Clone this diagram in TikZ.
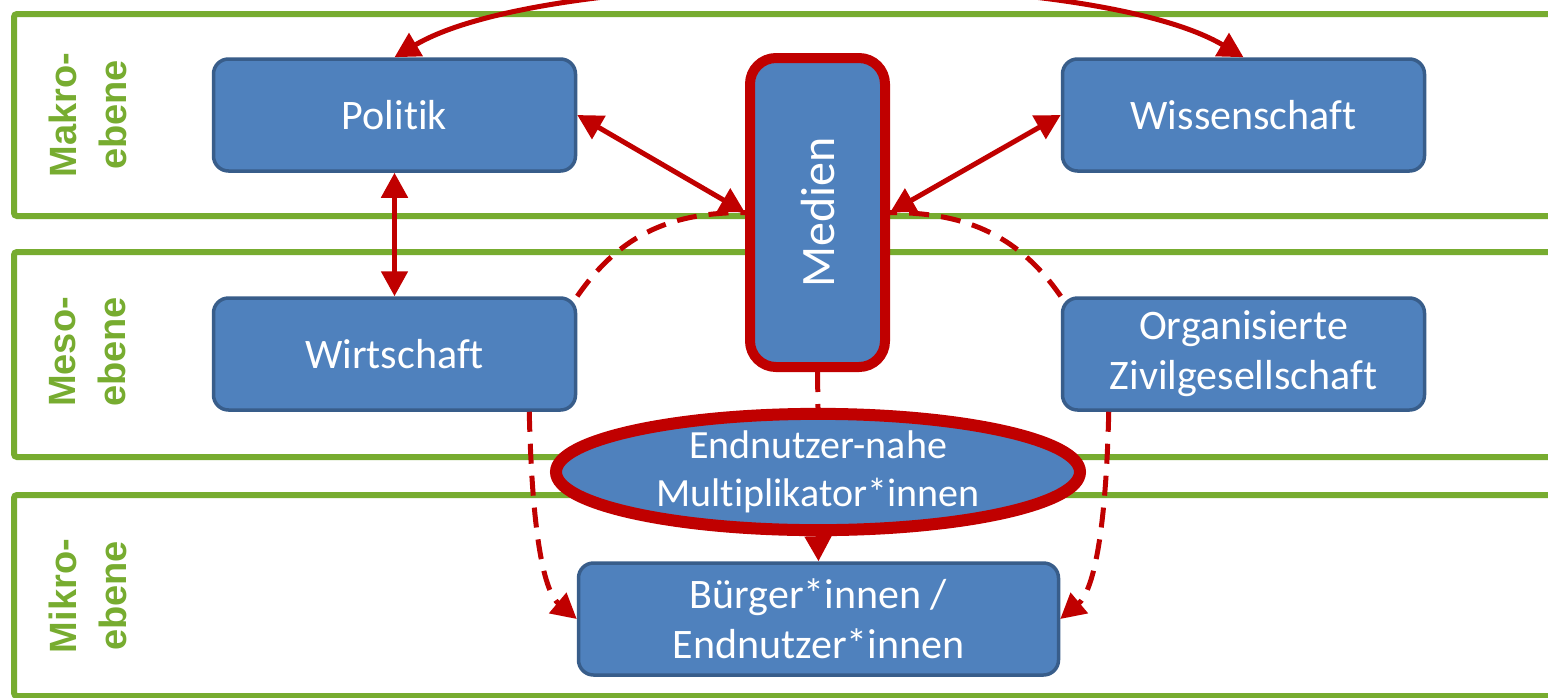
\documentclass[tikz,border=0pt]{standalone}
\usepackage{fontspec}
\setmainfont{Carlito}[Ligatures=NoCommon]
\newfontfamily\labelfont{Liberation Sans}
\usetikzlibrary{arrows.meta,shapes.geometric}
\definecolor{boxblue}{HTML}{4F81BD}
\definecolor{boxborder}{HTML}{385D8A}
\definecolor{medred}{HTML}{C00000}
\definecolor{bandgreen}{HTML}{77AC30}
\begin{document}
\begin{tikzpicture}[x=0.5pt,y=-0.5pt,
  band/.style={draw=bandgreen,line width=3pt,rounded corners=1.5pt},
  bandlabel/.style={rotate=90,align=center,text=bandgreen,inner sep=0pt,font=\labelfont\bfseries\fontsize{19}{25}\selectfont},
  box/.style={rectangle,rounded corners=7.5pt,fill=boxblue,draw=boxborder,line width=1.75pt,text=white,align=center,inner sep=0pt,minimum width=181pt,minimum height=56pt,font=\fontsize{21}{25}\selectfont},
  mediabox/.style={rectangle,rounded corners=13pt,fill=boxblue,draw=medred,line width=5pt,minimum width=67.5pt,minimum height=154.5pt,inner sep=0pt},
  medtext/.style={rotate=90,text=white,inner sep=0pt,font=\fontsize{24}{28}\selectfont},
  multi/.style={ellipse,fill=boxblue,draw=medred,line width=6pt,minimum width=262pt,minimum height=54pt,inner sep=0pt,text=white,align=center,font=\fontsize{20}{24}\selectfont},
  link/.style={draw=medred,line width=2.5pt},
  tip/.style={-{Triangle[length=12.5pt,width=13pt]}},
  both/.style={{Triangle[length=12.5pt,width=13pt]}-{Triangle[length=12.5pt,width=13pt]}},
  dashlink/.style={link,dash pattern=on 10pt off 6pt}
]
\useasboundingbox (0,0) rectangle (1548,697);
\clip (0,0) rectangle (1548,697);
\fill[white] (0,0) rectangle (1548,697);

% bands
\draw[band] (14,14) rectangle (1580,216);
\draw[band] (14,252) rectangle (1580,457);
\draw[band] (14,495) rectangle (1580,696);

\node[bandlabel] (lMakro) at (88,115) {Makro-\\ebene};
\node[bandlabel] (lMeso) at (88,352) {Meso-\\ebene};
\node[bandlabel] (lMikro) at (88,596) {Mikro-\\ebene};

% nodes
\node[box] (Politik) at (394.5,115) {Politik};
\node[box] (Wissenschaft) at (1243.5,115) {Wissenschaft};
\node[box] (Wirtschaft) at (394.5,354) {Wirtschaft};
\node[box] (Org) at (1243.5,354) {Organisierte\\Zivilgesellschaft};
\node[box,minimum width=240pt] (Buerger) at (818.5,619) {Bürger*innen /\\Endnutzer*innen};
\node[mediabox] (Medien) at (817.5,212.5) {};
\node[medtext] (MedienText) at (Medien.center) {Medien};
\node[multi] (Multi) at (818,472) {Endnutzer-nahe\\Multiplikator*innen};

% connectors
\draw[link,both] (Politik.north) .. controls +(155,-92) and +(-155,-92) .. (Wissenschaft.north);
\draw[link,both] (Politik.east) -- (Medien.west);
\draw[link,both] (Wissenschaft.west) -- (Medien.east);
\draw[link,both] (Politik.south) -- (Wirtschaft.north);
\draw[dashlink] (Wirtschaft.north east) .. controls +(45,-65) and +(-70,0) .. (Medien.west);
\draw[dashlink] (Org.north west) .. controls +(-45,-65) and +(70,0) .. (Medien.east);
\draw[dashlink] (Medien.south) -- (Multi.north);
\draw[link,tip] (Multi.south) -- (Buerger.north);
\draw[dashlink,tip] ([xshift=-24pt]Wirtschaft.south east) .. controls +(3,128) and +(-32,-27) .. (Buerger.west);
\draw[dashlink,tip] ([xshift=24pt]Org.south west) .. controls +(-3,128) and +(32,-27) .. (Buerger.east);
\end{tikzpicture}
\end{document}
